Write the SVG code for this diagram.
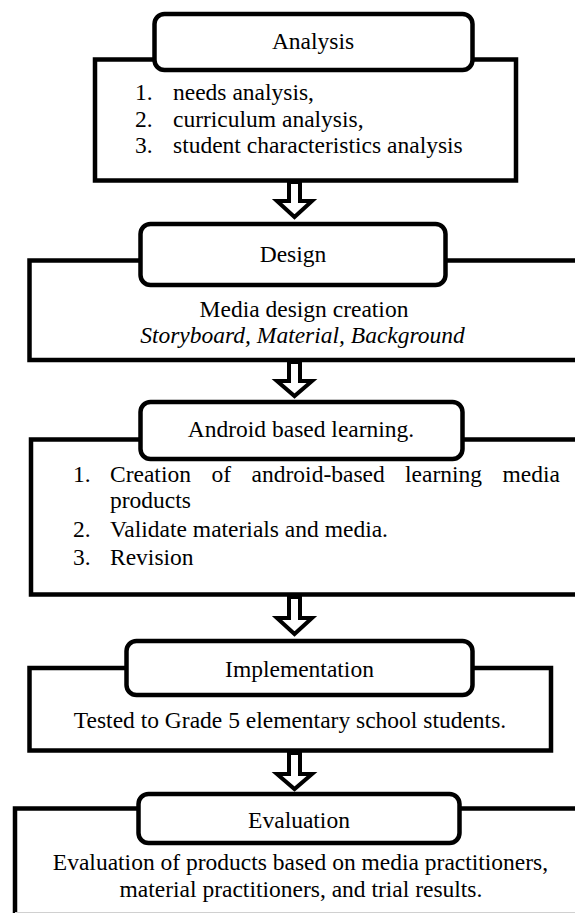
<svg xmlns="http://www.w3.org/2000/svg" width="575" height="913" viewBox="0 0 575 913">
  <style>
    .box { fill: #ffffff; stroke: #000000; stroke-width: 4.5; }
    .title { fill: #ffffff; stroke: #000000; stroke-width: 4.5; }
    .arrow { fill: #ffffff; stroke: #000000; stroke-width: 4; stroke-linejoin: miter; }
    .t { font-family: 'Liberation Serif', 'Times New Roman', Times, serif; font-size: 23.5px; fill: #000000; }
    .c { text-anchor: middle; }
    .i { font-style: italic; }
  </style>
  <rect x="0" y="0" width="575" height="913" fill="#ffffff"/>

  <g id="analysis" class="t" font-family="Liberation Serif, serif">
    <rect class="box" x="95" y="59.5" width="421" height="121"/>
    <rect class="title" x="154.5" y="14" width="318" height="56" rx="10" ry="10"/>
    <text class="c" x="313" y="49">Analysis</text>
    <text x="135" y="100">1.</text>
    <text x="173" y="100">needs analysis,</text>
    <text x="135" y="126.5">2.</text>
    <text x="173" y="126.5">curriculum analysis,</text>
    <text x="135" y="153">3.</text>
    <text x="173" y="153">student characteristics analysis</text>
  </g>

  <g id="design" class="t" font-family="Liberation Serif, serif">
    <rect class="box" x="29.5" y="260.5" width="560" height="99.5"/>
    <rect class="title" x="140.5" y="224" width="305" height="61" rx="10" ry="10"/>
    <text class="c" x="293" y="262">Design</text>
    <text class="c" x="304" y="317">Media design creation</text>
    <text class="c i" x="302.5" y="343">Storyboard, Material, Background</text>
  </g>

  <g id="android" class="t" font-family="Liberation Serif, serif">
    <rect class="box" x="31" y="439.5" width="560" height="155"/>
    <rect class="title" x="140.5" y="402" width="322" height="57" rx="10" ry="10"/>
    <text class="c" x="301" y="437">Android based learning.</text>
    <text x="73" y="482">1.</text>
    <text y="482"><tspan x="110">Creation</tspan><tspan x="211.5">of</tspan><tspan x="251.6">android-based</tspan><tspan x="405.1">learning</tspan><tspan x="502.6">media</tspan></text>
    <text x="110" y="508">products</text>
    <text x="73" y="537">2.</text>
    <text x="110" y="537">Validate materials and media.</text>
    <text x="73" y="565">3.</text>
    <text x="110" y="565">Revision</text>
  </g>

  <g id="implementation" class="t" font-family="Liberation Serif, serif">
    <rect class="box" x="29.5" y="668" width="521.5" height="82.5"/>
    <rect class="title" x="126.5" y="641" width="346" height="54" rx="10" ry="10"/>
    <text class="c" x="299.5" y="677">Implementation</text>
    <text class="c" x="290" y="728">Tested to Grade 5 elementary school students.</text>
  </g>

  <g id="evaluation" class="t" font-family="Liberation Serif, serif">
    <rect class="box" x="15" y="808.5" width="575" height="130"/>
    <line x1="15" y1="912.5" x2="575" y2="912.5" stroke="#d0d0d0" stroke-width="1"/>
    <rect class="title" x="138.5" y="794" width="321" height="49" rx="10" ry="10"/>
    <text class="c" x="299" y="828">Evaluation</text>
    <text class="c" x="300.5" y="870">Evaluation of products based on media practitioners,</text>
    <text class="c" x="301" y="897">material practitioners, and trial results.</text>
  </g>

  <g id="connectors">
    <path class="arrow" d="M289,182 V201 H277 L294.5,217 L312,201 H300 V182 Z"/>
    <path class="arrow" d="M289,362 V381 H277 L294.5,396 L312,381 H300 V362 Z"/>
    <path class="arrow" d="M289,597 V618 H277 L294.5,634 L312,618 H300 V597 Z"/>
    <path class="arrow" d="M289,753 V774 H277 L294.5,789 L312,774 H300 V753 Z"/>
  </g>
</svg>
